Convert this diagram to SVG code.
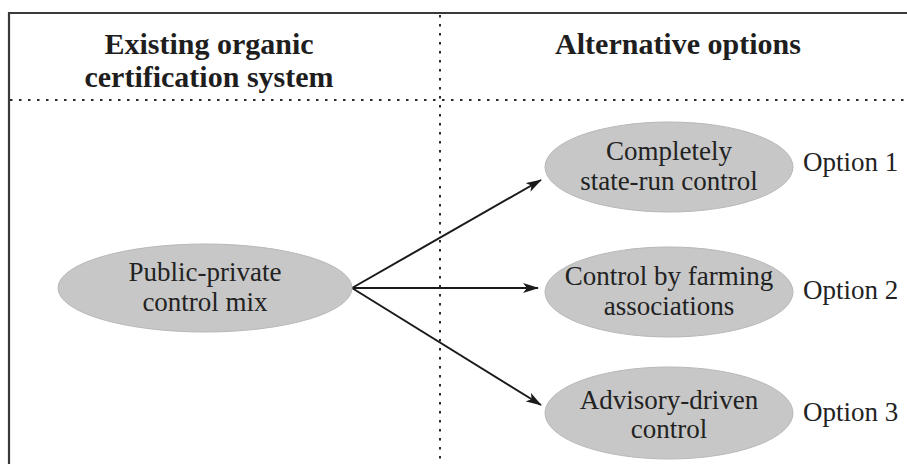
<svg xmlns="http://www.w3.org/2000/svg" width="907" height="464" viewBox="0 0 907 464">
  <style>
    .frame { fill: none; stroke: #3a3a3a; stroke-width: 2.2; }
    .divider { fill: none; stroke: #2a2a2a; stroke-width: 2; stroke-dasharray: 2.5 6.5; }
    .heading { font-family: "Liberation Serif", "Times New Roman", serif; font-weight: bold; font-size: 30px; fill: #1e1e1e; text-anchor: middle; }
    .node ellipse { fill: #c7c7c7; stroke: #b8b8b8; stroke-width: 1; }
    .label { font-family: "Liberation Serif", "Times New Roman", serif; font-size: 27px; fill: #222; text-anchor: middle; }
    .tag { font-family: "Liberation Serif", "Times New Roman", serif; font-size: 27px; fill: #222; }
    .edge { fill: none; stroke: #1a1a1a; stroke-width: 2; marker-end: url(#arrow); }
  </style>
  <defs>
    <marker id="arrow" viewBox="0 0 16 10" refX="15" refY="5" markerWidth="16" markerHeight="10" markerUnits="userSpaceOnUse" orient="auto">
      <path d="M0,0 L16,5 L0,10 L4,5 Z" fill="#1a1a1a"/>
    </marker>
  </defs>

  <rect width="907" height="464" fill="#ffffff"/>

  <!-- outer frame (continues past the right and bottom edges) -->
  <path class="frame" d="M9,464 V13 H907"/>

  <!-- column and header dividers -->
  <line class="divider" x1="440" y1="15" x2="440" y2="464"/>
  <line class="divider" x1="10" y1="100" x2="907" y2="100"/>

  <!-- column headings -->
  <g id="heading-existing">
    <text class="heading" x="209" y="54">Existing organic</text>
    <text class="heading" x="209" y="87">certification system</text>
  </g>
  <g id="heading-alternatives">
    <text class="heading" x="678" y="54">Alternative options</text>
  </g>

  <!-- connectors -->
  <g id="connectors">
    <line class="edge" x1="352" y1="288" x2="541" y2="180"/>
    <line class="edge" x1="352" y1="288" x2="538" y2="288"/>
    <line class="edge" x1="352" y1="288" x2="541" y2="405"/>
  </g>

  <!-- nodes -->
  <g id="node-current" class="node">
    <ellipse cx="205" cy="288" rx="147" ry="44"/>
    <text class="label" x="205" y="281">Public-private</text>
    <text class="label" x="205" y="311">control mix</text>
  </g>
  <g id="node-option1" class="node">
    <ellipse cx="669" cy="167" rx="124" ry="45"/>
    <text class="label" x="669" y="160">Completely</text>
    <text class="label" x="669" y="190">state-run control</text>
    <text class="tag" x="803" y="171">Option 1</text>
  </g>
  <g id="node-option2" class="node">
    <ellipse cx="669" cy="292" rx="124" ry="45"/>
    <text class="label" x="669" y="285">Control by farming</text>
    <text class="label" x="669" y="315">associations</text>
    <text class="tag" x="803" y="299">Option 2</text>
  </g>
  <g id="node-option3" class="node">
    <ellipse cx="669" cy="413" rx="124" ry="46"/>
    <text class="label" x="669" y="409">Advisory-driven</text>
    <text class="label" x="669" y="438">control</text>
    <text class="tag" x="803" y="421">Option 3</text>
  </g>
</svg>
